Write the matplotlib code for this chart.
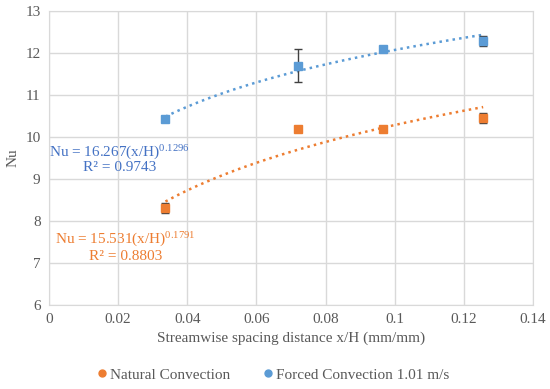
import matplotlib.pyplot as plt
import numpy as np

plt.rcParams['font.family'] = ['Liberation Serif', 'DejaVu Serif']
plt.rcParams['mathtext.fontset'] = 'custom'
plt.rcParams['mathtext.rm'] = 'Liberation Serif'
plt.rcParams['mathtext.it'] = 'Liberation Serif:italic'

# measured points
x_nat = [0.0337, 0.072, 0.0967, 0.1256]
nu_nat = [8.30, 10.20, 10.18, 10.45]
err_nat = [0.12, 0.05, 0.05, 0.12]

x_forced = [0.0337, 0.072, 0.0967, 0.1256]
nu_forced = [10.42, 11.70, 12.10, 12.28]
err_forced = [0.05, 0.40, 0.05, 0.12]

# power-law fits  Nu = a (x/H)^b
a_nat, b_nat = 15.531, 0.1791
a_forced, b_forced = 16.267, 0.1296

orange = "#ED7D31"
blue = "#5B9BD5"
grey = "#595959"

fig = plt.figure(figsize=(5.5, 3.89), dpi=100)
ax = fig.add_axes([0.089, 0.216, 0.88, 0.756])

ax.errorbar(x_nat, nu_nat, yerr=err_nat, fmt="s", color=orange, ms=6,
            ecolor="#404040", elinewidth=1, capsize=3, zorder=3)
ax.errorbar(x_forced, nu_forced, yerr=err_forced, fmt="s", color=blue, ms=6,
            ecolor="#404040", elinewidth=1, capsize=3, zorder=3)

# trendlines
xf = np.linspace(min(x_nat), max(x_nat), 100)
ax.plot(xf, a_nat * xf ** b_nat, ":", color=orange, lw=1.8, zorder=2)
ax.plot(xf, a_forced * xf ** b_forced, ":", color=blue, lw=1.8, zorder=2)

ax.set_xlim(0, 0.14)
ax.set_ylim(6, 13)
ax.set_xticks([0, 0.02, 0.04, 0.06, 0.08, 0.1, 0.12, 0.14])
ax.set_xticklabels(["0", "0.02", "0.04", "0.06", "0.08", "0.1", "0.12", "0.14"])
ax.set_yticks(range(6, 14))
ax.grid(color="#D9D9D9", lw=1)
ax.set_axisbelow(True)
for s in ax.spines.values():
    s.set_color("#D9D9D9")
ax.tick_params(length=0, colors=grey, labelsize=11, pad=6)

ax.set_xlabel("Streamwise spacing distance x/H (mm/mm)", color=grey, fontsize=11, labelpad=4)
ax.set_ylabel("Nu", color=grey, fontsize=11, labelpad=4)

# equations
ax.text(0.0205, 9.63, r"Nu = 16.267(x/H)$^{\mathregular{0.1296}}$", color="#4472C4",
        fontsize=11, ha="center", va="center")
ax.text(0.0205, 9.27, "R² = 0.9743", color="#4472C4", fontsize=11, ha="center", va="center")
ax.text(0.0222, 7.56, r"Nu = 15.531(x/H)$^{\mathregular{0.1791}}$", color=orange,
        fontsize=11, ha="center", va="center")
ax.text(0.0222, 7.15, "R² = 0.8803", color=orange, fontsize=11, ha="center", va="center")

handles = [
    plt.Line2D([], [], marker="o", color=orange, ls="", ms=5),
    plt.Line2D([], [], marker="o", color=blue, ls="", ms=5),
]
fig.legend(handles, ["Natural Convection", "Forced Convection 1.01 m/s"], loc="center",
           bbox_to_anchor=(0.497, 0.036), ncol=2, frameon=False, fontsize=11,
           handlelength=0.6, handletextpad=0.2, columnspacing=2.2, labelcolor=grey)

fig.savefig("out.png", dpi=100)
